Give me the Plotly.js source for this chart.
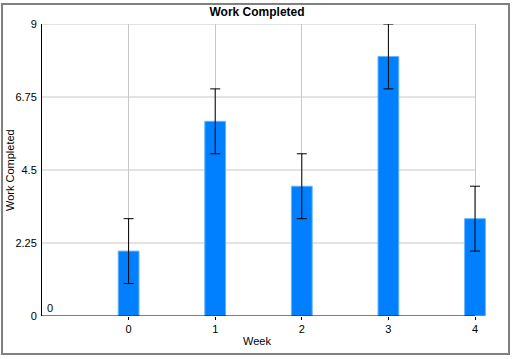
<!DOCTYPE html>
<html><head><meta charset="utf-8">
<script src="https://cdn.plot.ly/plotly-3.0.1.min.js"></script>
<style>html,body{margin:0;padding:0;background:#fff}#chart{width:512px;height:359px}</style>
</head><body><div id="chart"></div>
<script>
var weeks = [0, 1, 2, 3, 4];
var workCompleted = [2, 6, 4, 8, 3];
var errors = [1, 1, 1, 1, 1];
var yTicks = [0, 2.25, 4.5, 6.75, 9];
var yTickLabels = ['0', '2.25', '4.5', '6.75', '9'];

var font = 'Arial, "Liberation Sans", sans-serif';
var xMin = -1, xMax = 4, xOver = 4.127;
var trace = {
  type: 'bar', x: weeks, y: workCompleted, width: 0.24,
  marker: {color: '#0080ff', line: {color: '#66b3ff', width: 1}},
  error_y: {type: 'data', array: errors, visible: true, color: '#000', thickness: 1, width: 5},
  hoverinfo: 'none'
};
var shapes = [];
yTicks.slice(1).forEach(function (v) {
  shapes.push({type: 'line', xref: 'x', yref: 'y', x0: xMin, x1: xMax, y0: v, y1: v, line: {color: '#c8c8c8', width: 1}, layer: 'below'});
});
shapes.push({type: 'line', xref: 'x', yref: 'y', x0: xMin, x1: xMax, y0: 0, y1: 0, line: {color: '#000', width: 1}, layer: 'above'});
shapes.push({type: 'rect', xref: 'paper', yref: 'paper', x0: -0.0900, x1: 1.0518, y0: -0.130, y1: 1.0685, line: {color: '#808080', width: 2}, layer: 'below'});

var layout = {
  width: 512, height: 359,
  margin: {l: 42, r: 26, t: 24, b: 43},
  paper_bgcolor: '#fff', plot_bgcolor: 'rgba(0,0,0,0)',
  showlegend: false,
  title: {text: '<b>Work Completed</b>', font: {family: font, size: 12, color: '#000'}, x: (257 / 512), xanchor: 'center', y: 0.966, yanchor: 'middle'},
  xaxis: {
    range: [xMin, xOver], tickvals: weeks, ticktext: weeks.map(String),
    showgrid: true, gridcolor: '#c8c8c8', gridwidth: 1,
    zeroline: false, showline: false,
    ticks: 'outside', ticklen: 3, tickcolor: '#000',
    tickfont: {family: font, size: 11, color: '#000'},
    fixedrange: true
  },
  yaxis: {
    range: [0, 9], tickvals: yTicks, ticktext: yTickLabels,
    showgrid: false,
    zeroline: false, showline: true, linecolor: '#000', linewidth: 1,
    ticks: 'outside', ticklen: 2, tickcolor: 'rgba(0,0,0,0)',
    tickfont: {family: font, size: 11, color: '#000'},
    fixedrange: true
  },
  annotations: [
    {xref: 'paper', yref: 'y', x: 0, y: 0, xshift: 3, yshift: 0, xanchor: 'left', yanchor: 'bottom', text: '0', showarrow: false, font: {family: font, size: 11, color: '#000'}},
    {xref: 'paper', yref: 'paper', x: -0.072, y: 0.5, xanchor: 'center', yanchor: 'middle', textangle: -90, text: 'Work Completed', showarrow: false, font: {family: font, size: 11, color: '#000'}},
    {xref: 'paper', yref: 'paper', x: 0.484, y: -0.0855, xanchor: 'center', yanchor: 'middle', text: 'Week', showarrow: false, font: {family: font, size: 11, color: '#000'}}
  ],
  shapes: shapes
};
Plotly.newPlot('chart', [trace], layout, {staticPlot: true, displayModeBar: false});
</script></body></html>
